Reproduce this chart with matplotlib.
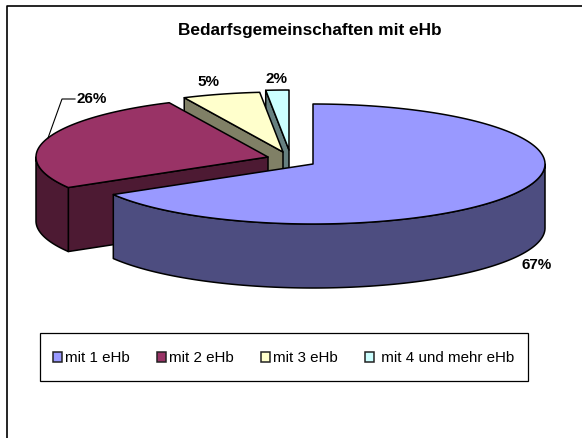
import numpy as np
import matplotlib
matplotlib.use('Agg')
import matplotlib.pyplot as plt
from matplotlib.patches import Patch, Polygon, Rectangle

plt.rcParams['font.family'] = ['Liberation Sans', 'DejaVu Sans']

# data
categories = ['mit 1 eHb', 'mit 2 eHb', 'mit 3 eHb', ' mit 4 und mehr eHb']
values = [66.5, 26.5, 5.4, 1.6]
labels = ['67%', '26%', '5%', '2%']

# look
top_colors = ['#9999FF', '#993366', '#FFFFCC', '#CCFFFF']
side_colors = ['#4D4D80', '#4D1A33', '#808066', '#668080']
centers = [(313, 164), (268, 157), (283, 152), (289, 150)]
label_pos = [(537, 265), (92, 99), (208, 82), (276, 79)]
rx, ry, depth = 232, 60, 64

fig = plt.figure(figsize=(5.82, 4.38), dpi=100)
ax = fig.add_axes([0, 0, 1, 1])
ax.set_xlim(0, 582)
ax.set_ylim(438, 0)
ax.axis('off')


def rim(c, a, b):
    # angle is clockwise from 12 o'clock, like the chart itself
    t = np.radians(np.linspace(a, b, 200))
    return np.column_stack([c[0] + rx * np.sin(t), c[1] - ry * np.cos(t)])


def add(pts, color, z):
    ax.add_patch(Polygon(pts, closed=True, fc=color, ec='black', lw=1.1, joinstyle='round', zorder=z))


ends = np.cumsum(values) / sum(values) * 360
starts = np.concatenate([[0], ends[:-1]])

# back slices first so the big one covers them
for i in [3, 2, 1, 0]:
    c = np.array(centers[i], dtype=float)
    drop = np.array([0, depth])
    z = 10 - i
    a, b = starts[i], ends[i]
    if i > 0:
        # cut face on the starting side faces the viewer for the slices behind
        edge = rim(c, a, a + 0.001)[0]
        add([c, edge, edge + drop, c + drop], side_colors[i], z)
    # outer wall, only the part that is on the front half
    fa, fb = max(a, 90), min(b, 270)
    if fb > fa:
        r = rim(c, fa, fb)
        add(np.vstack([r, (r + drop)[::-1]]), side_colors[i], z)
    add(np.vstack([c, rim(c, a, b)]), top_colors[i], z + 0.5)

# labels
for lab, p in zip(labels, label_pos):
    ax.text(p[0], p[1], lab, fontsize=11, fontweight='bold', ha='center', va='center', zorder=20)

# leader line for 26%
ax.plot([48, 62, 75], [138, 99, 99], color='black', lw=0.8, zorder=20)

ax.text(310, 30, 'Bedarfsgemeinschaften mit eHb', fontsize=12.4, fontweight='bold', ha='center', va='center')

# legend, frame drawn by hand so its size can be set apart from the text
ax.add_patch(Rectangle((39.5, 333), 488, 48, fc='white', ec='black', lw=0.9, zorder=15))
handles = [Patch(fc=col, ec='#222222', lw=1.1, label=n) for col, n in zip(top_colors, categories)]
leg = ax.legend(handles=handles, ncol=4, loc='center', bbox_to_anchor=(284 / 582, 1 - 358 / 438),
                fontsize=10.9, frameon=False, borderpad=0, borderaxespad=0,
                handlelength=0.6, handleheight=0.65, handletextpad=0.2, columnspacing=1.79)
leg.set_zorder(16)

# outer border of the chart area
ax.plot([6.5, 6.5, 582], [438, 5.5, 5.5], color='black', lw=1.2, zorder=30, clip_on=False)

fig.savefig('out.png', dpi=100)
